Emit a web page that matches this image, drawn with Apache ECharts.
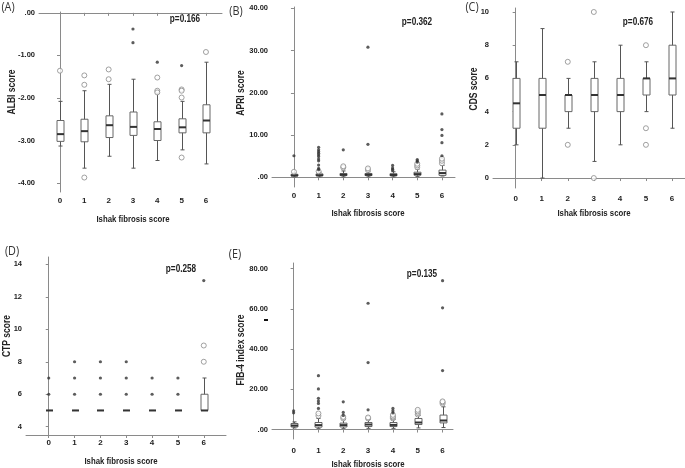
<!DOCTYPE html>
<html><head><meta charset="utf-8">
<script src="https://cdn.jsdelivr.net/npm/echarts@6/dist/echarts.min.js"></script>
<style>html,body{margin:0;padding:0;background:#fff}#c{width:685px;height:468px}</style>
</head><body><div id="c"></div>
<script>
const categories = [0, 1, 2, 3, 4, 5, 6];
const xAxisTitle = 'Ishak fibrosis score';

// Each box: [whisker low, Q1, median, Q3, whisker high]
const albiBoxes = [
  [-3.13, -3.02, -2.85, -2.53, -2.08],
  [-3.65, -3.03, -2.78, -2.50, -1.83],
  [-3.37, -2.93, -2.64, -2.42, -1.68],
  [-3.65, -2.88, -2.68, -2.33, -1.56],
  [-3.47, -3.00, -2.73, -2.56, -1.89],
  [-3.22, -2.82, -2.69, -2.49, -2.08],
  [-3.55, -2.82, -2.53, -2.16, -1.16]
];
const albiOutliers = [[0,-1.36],[1,-1.47],[1,-1.69],[1,-3.87],[2,-1.33],[2,-1.56],[4,-1.52],[4,-1.83],[4,-1.87],[5,-1.80],[5,-1.83],[5,-1.99],[5,-3.40],[6,-0.92]];
const albiExtremes = [[3,-0.38],[3,-0.70],[4,-1.16],[5,-1.24]];
const albiTicks = [0, -1, -2, -3, -4];

const apriBoxes = [
  [0.10, 0.30, 0.45, 0.70, 1.00],
  [0.10, 0.35, 0.50, 0.80, 1.20],
  [0.10, 0.40, 0.60, 0.90, 1.50],
  [0.10, 0.40, 0.60, 0.90, 1.30],
  [0.10, 0.35, 0.55, 0.85, 1.30],
  [0.15, 0.50, 0.75, 1.20, 1.90],
  [0.30, 0.45, 1.00, 1.70, 2.80]
];
const apriOutliers = [[0,1.3],[1,1.4],[2,2.3],[2,2.6],[3,1.7],[3,2.1],[5,2.4],[5,2.8],[5,3.2],[6,3.3],[6,3.9],[6,4.4]];
const apriExtremes = [[0,5.1],[1,1.8],[1,2.1],[1,2.9],[1,3.9],[1,4.3],[1,4.9],[1,5.3],[1,5.7],[1,6.1],[1,6.5],[1,7.1],[2,6.5],[3,7.8],[3,30.8],[4,1.6],[4,1.9],[4,2.2],[4,2.8],[5,3.6],[5,3.9],[5,4.2],[6,5.1],[6,8.2],[6,9.9],[6,11.3],[6,15.0]];
const apriTicks = [0, 10, 20, 30, 40];

const cdsBoxes = [
  [2, 3, 4.5, 6, 7],
  [0, 3, 5, 6, 9],
  [3, 4, 5, 5, 6],
  [1, 4, 5, 6, 7],
  [2, 4, 5, 6, 8],
  [4, 5, 6, 6, 7],
  [3, 5, 6, 8, 10]
];
const cdsOutliers = [[2,7],[2,2],[3,10],[3,0],[5,8],[5,3],[5,2]];
const cdsExtremes = [];
const cdsTicks = [0, 2, 4, 6, 8, 10];

const ctpBoxes = [
  [5, 5, 5, 5, 5],
  [5, 5, 5, 5, 5],
  [5, 5, 5, 5, 5],
  [5, 5, 5, 5, 5],
  [5, 5, 5, 5, 5],
  [5, 5, 5, 5, 5],
  [5, 5, 5, 6, 7]
];
const ctpOutliers = [[6,8],[6,9]];
const ctpExtremes = [[0,6],[0,7],[1,6],[1,7],[1,8],[2,6],[2,7],[2,8],[3,6],[3,7],[3,8],[4,6],[4,7],[5,6],[5,7],[6,13]];
const ctpTicks = [4, 6, 8, 10, 12, 14];

const fib4Boxes = [
  [0.8, 1.3, 2.0, 3.0, 3.8],
  [0.6, 1.2, 2.2, 3.5, 5.5],
  [0.6, 1.3, 2.2, 3.2, 5.0],
  [0.6, 1.5, 2.5, 3.5, 5.0],
  [0.6, 1.5, 2.3, 3.5, 5.0],
  [0.8, 2.5, 3.5, 5.5, 7.0],
  [1.0, 3.3, 4.5, 7.2, 11.3]
];
const fib4Outliers = [[1,6.8],[1,8.0],[2,5.5],[2,6.3],[3,5.5],[3,6.0],[4,5.5],[4,6.0],[4,6.5],[4,7.3],[5,7.5],[5,8.3],[5,9.0],[5,9.8],[6,12.8],[6,13.5],[6,14.0]];
const fib4Extremes = [[0,8.3],[0,9.3],[1,10.5],[1,13.0],[1,14.2],[1,15.5],[1,20.2],[1,26.8],[2,7.0],[2,8.5],[2,13.8],[3,9.8],[3,33.3],[3,62.8],[4,8.3],[4,9.3],[4,10.5],[6,29.3],[6,60.5],[6,74.0]];
const fib4Ticks = [0, 20, 40, 60, 80];

const panelLabels = ['(A)', '(B)', '(C)', '(D)', '(E)'];
const yTitles = ['ALBI score', 'APRI score', 'CDS score', 'CTP score', 'FIB-4 index score'];
const pValues = ['p=0.166', 'p=0.362', 'p=0.676', 'p=0.258', 'p=0.135'];

const FONT = "'Liberation Sans',Arial,sans-serif";
const AXIS_COLOR = '#8a8a8a';
const TEXT_COLOR = '#222';
const NARROW = 0.82; // horizontal squeeze to mimic a narrow bold face

const layouts = [
  {grid:{left:39, top:12, width:183, height:180}, x:[-0.863, 6.66], y:[-4.21, 0.02], lm:5, dec:true,
   lab:[8,8], xt:[133,219], yt:[12,92], pv:[185,19]},
  {grid:{left:272, top:7, width:183, height:180}, x:[-0.89, 6.53], y:[-2.3, 40.3], lm:5, dec:true,
   lab:[236,12], xt:[368,213], yt:[241,93], pv:[417,22]},
  {grid:{left:493, top:8, width:192, height:180}, x:[-0.87, 6.5], y:[-0.6, 10.24], lm:7, dec:false,
   lab:[472,8], xt:[594,213], yt:[474,89], pv:[638,22]},
  {grid:{left:26, top:257, width:200, height:178}, x:[-0.88, 6.86], y:[3.49, 14.45], lm:4, dec:false,
   lab:[12,252], xt:[121,461], yt:[7,336], pv:[181,269]},
  {grid:{left:272, top:263, width:181, height:176}, x:[-0.87, 6.42], y:[-4.7, 82.8], lm:8, dec:true,
   lab:[235,255], xt:[368,464], yt:[241,350], pv:[422,274]}
];
const panelData = [
  [albiBoxes, albiOutliers, albiExtremes, albiTicks],
  [apriBoxes, apriOutliers, apriExtremes, apriTicks],
  [cdsBoxes, cdsOutliers, cdsExtremes, cdsTicks],
  [ctpBoxes, ctpOutliers, ctpExtremes, ctpTicks],
  [fib4Boxes, fib4Outliers, fib4Extremes, fib4Ticks]
];

function renderBox(params, api) {
  const x = api.value(0);
  const lo = api.coord([x, api.value(1)]);
  const q1 = api.coord([x, api.value(2)]);
  const md = api.coord([x, api.value(3)]);
  const q3 = api.coord([x, api.value(4)]);
  const hi = api.coord([x, api.value(5)]);
  const cx = Math.round(lo[0]) + 0.5;
  const bw = 7, cw = 4;
  const st = '#555';
  return {type: 'group', children: [
    {type: 'line', shape: {x1: cx, y1: hi[1], x2: cx, y2: lo[1]}, style: {stroke: st, lineWidth: 1}},
    {type: 'line', shape: {x1: cx - cw / 2, y1: hi[1], x2: cx + cw / 2, y2: hi[1]}, style: {stroke: st, lineWidth: 1}},
    {type: 'line', shape: {x1: cx - cw / 2, y1: lo[1], x2: cx + cw / 2, y2: lo[1]}, style: {stroke: st, lineWidth: 1}},
    {type: 'rect', shape: {x: cx - bw / 2, y: q3[1], width: bw, height: q1[1] - q3[1]}, style: {fill: '#fff', stroke: '#666', lineWidth: 1}},
    {type: 'line', shape: {x1: cx - bw / 2, y1: md[1], x2: cx + bw / 2, y2: md[1]}, style: {stroke: '#333', lineWidth: 2}}
  ]};
}

const grids = [], xAxes = [], yAxes = [], series = [], graphics = [];
layouts.forEach((L, i) => {
  const [boxes, outl, extr, ticks] = panelData[i];
  grids.push(Object.assign({containLabel: false}, L.grid));
  xAxes.push({
    type: 'value', gridIndex: i, min: L.x[0], max: L.x[1], splitLine: {show: false},
    axisLine: {show: true, lineStyle: {color: AXIS_COLOR, width: 1}},
    axisTick: {show: true, length: 3, customValues: categories, lineStyle: {color: AXIS_COLOR}},
    axisLabel: {customValues: categories, margin: L.lm, color: TEXT_COLOR, fontFamily: FONT, fontWeight: 'bold', fontSize: 8}
  });
  yAxes.push({
    type: 'value', gridIndex: i, min: L.y[0], max: L.y[1], splitLine: {show: false},
    axisLine: {show: true, lineStyle: {color: AXIS_COLOR, width: 1}},
    axisTick: {show: true, length: 3, customValues: ticks, lineStyle: {color: AXIS_COLOR}},
    axisLabel: {customValues: ticks, margin: 4, color: TEXT_COLOR, fontFamily: FONT, fontWeight: 'bold', fontSize: 7.5,
      formatter: L.dec ? (v => (Math.abs(v) < 1e-9 ? '.00' : Number(v).toFixed(2))) : (v => String(Math.round(v)))}
  });
  series.push({
    type: 'custom', xAxisIndex: i, yAxisIndex: i, renderItem: renderBox, clip: false,
    encode: {x: 0, y: [1, 2, 3, 4, 5]},
    data: boxes.map((b, k) => [categories[k]].concat(b)), z: 2
  });
  series.push({
    type: 'scatter', xAxisIndex: i, yAxisIndex: i, symbol: 'circle', symbolSize: 5,
    itemStyle: {color: '#fff', borderColor: '#8a8a8a', borderWidth: 1}, data: outl, z: 3
  });
  series.push({
    type: 'scatter', xAxisIndex: i, yAxisIndex: i, symbol: 'circle', symbolSize: 3.2,
    itemStyle: {color: '#333'}, data: extr, z: 3
  });
  graphics.push({type: 'text', x: L.lab[0], y: L.lab[1], scaleX: 0.9,
    style: {text: panelLabels[i], font: "normal 12px 'Open Sans','Liberation Sans',sans-serif", fill: '#333', align: 'center', verticalAlign: 'middle'}});
  graphics.push({type: 'text', x: L.pv[0], y: L.pv[1], scaleX: NARROW,
    style: {text: pValues[i], font: 'bold 10px ' + FONT, fill: TEXT_COLOR, align: 'center', verticalAlign: 'middle'}});
  graphics.push({type: 'text', x: L.xt[0], y: L.xt[1], scaleX: NARROW,
    style: {text: xAxisTitle, font: 'bold 9.5px ' + FONT, fill: TEXT_COLOR, align: 'center', verticalAlign: 'middle'}});
  graphics.push({type: 'text', x: L.yt[0], y: L.yt[1], rotation: Math.PI / 2, scaleX: 0.85,
    style: {text: yTitles[i], font: 'bold 10px ' + FONT, fill: TEXT_COLOR, align: 'center', verticalAlign: 'middle'}});
});
// small stray dash mark present in panel (E) of the original figure
graphics.push({type: 'rect', shape: {x: 264, y: 319, width: 4, height: 2}, style: {fill: '#111'}});

const chart = echarts.init(document.getElementById('c'), null, {renderer: 'canvas'});
chart.setOption({
  backgroundColor: '#fff', animation: false,
  grid: grids, xAxis: xAxes, yAxis: yAxes, series: series, graphic: graphics
});
</script>
</body></html>
